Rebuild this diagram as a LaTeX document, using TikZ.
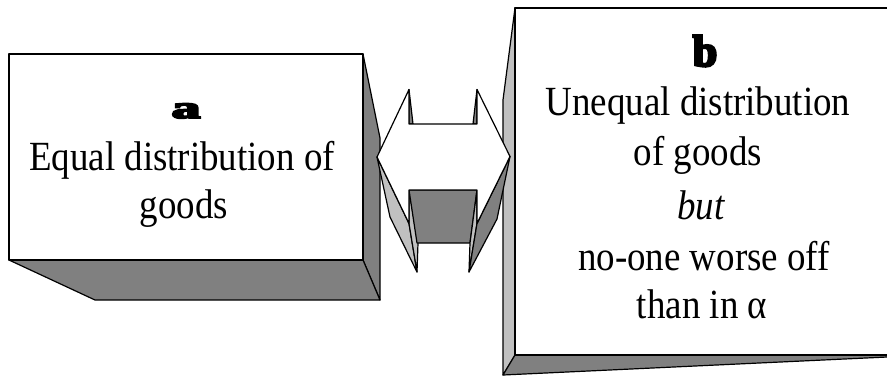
\documentclass[tikz,border=0pt]{standalone}
\usepackage{fontspec}
\setmainfont{Liberation Serif}[FakeStretch=0.89,
  UprightFont=Liberation Serif,
  ItalicFont=Liberation Serif Italic,
  BoldFont=Liberation Serif Bold]
\newfontfamily\heavyfont{Liberation Serif Bold}[FakeBold=6]
\definecolor{darkface}{HTML}{808080}
\definecolor{lightface}{HTML}{C0C0C0}
\begin{document}
\begin{tikzpicture}[x=1pt,y=-1pt,
  edge/.style={draw=black,line width=1.2pt,line join=round},
  dark/.style={edge,fill=darkface},
  light/.style={edge,fill=lightface},
  front/.style={edge,fill=white},
  txt/.style={anchor=base,inner sep=0pt,font=\fontsize{41.5}{48}\selectfont},
  lbl/.style={anchor=base,inner sep=0pt,font=\heavyfont\fontsize{44}{48}\selectfont}]
\useasboundingbox (0,0) rectangle (887,376);
\clip (0,0) rectangle (887,376);
% box a
\draw[dark] (363,54) -- (380,138) -- (380,300) -- (363,260) -- cycle;
\draw[dark] (9,260) -- (95,300) -- (380,300) -- (363,260) -- cycle;
\draw[front] (9,54) rectangle (363,260);
\node[lbl] (alab) at (186,118) {\scalebox{1.3}[0.7]{a}};
\node[txt] (a1) at (182,170) {Equal distribution of};
\node[txt] (a2) at (184,218) {goods};
% box b
\draw[light] (515,8) -- (503,100) -- (503,375) -- (515,355) -- cycle;
\draw[dark] (515,355) -- (503,375) -- (900,356.4) -- (900,355) -- cycle;
\draw[front] (515,8) rectangle (900,355);
\node[lbl] (blab) at (705,66) {b};
\node[txt] (b1) at (698,115) {Unequal distribution};
\node[txt] (b2) at (698,165) {of goods};
\node[txt] (b3) at (701,219) {\itshape but};
\node[txt] (b4) at (704,270) {no-one worse off};
\node[txt] (b5) at (702,318) {than in α};
% double arrow
\draw[light] (377,157) -- (390,217) -- (417,272) -- (409,223.5) -- cycle;
\draw[light] (409,223.5) -- (417,272) -- (418,243) -- (409,190) -- cycle;
\draw[dark] (409,190) -- (477,190) -- (470,243) -- (417,243) -- cycle;
\draw[light] (477,190) -- (477,223.5) -- (469,272) -- (470,243) -- cycle;
\draw[dark] (510,156.5) -- (497,219) -- (469,272) -- (477,223.5) -- cycle;
\draw[dark] (409,89.5) -- (409,124) -- (413,124) -- cycle;
\draw[dark] (477,89.5) -- (477,124) -- (473,124) -- cycle;
\draw[front] (377,157) -- (409,89.5) -- (409,124) -- (477,124) -- (477,89.5)
  -- (510,156.5) -- (477,223.5) -- (477,190) -- (409,190) -- (409,223.5) -- cycle;
\end{tikzpicture}
\end{document}
